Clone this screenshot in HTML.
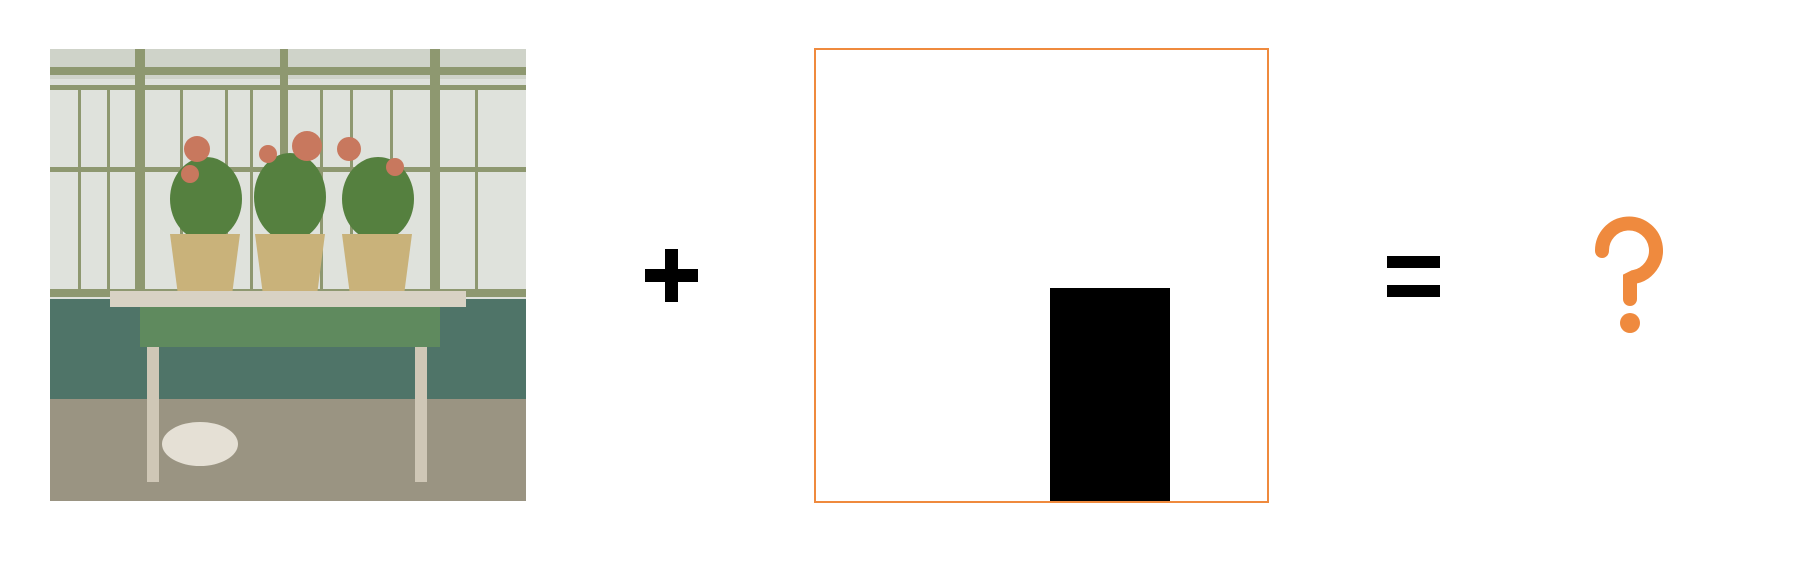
<!DOCTYPE html>
<html><head><meta charset="utf-8"><style>
html,body{margin:0;padding:0;background:#fff;}
body{width:1798px;height:562px;position:relative;overflow:hidden;font-family:"Liberation Sans",sans-serif;}
.a{position:absolute;}
</style></head><body>
<div class="a" style="left:50px;top:49px;width:476px;height:452px;overflow:hidden;background:#d9dcd6;">
<svg width="476" height="452" viewBox="0 0 476 452">
<rect x="0" y="0" width="476" height="250" fill="#dfe2dc"/>
<rect x="0" y="0" width="476" height="30" fill="#cfd3c9"/>
<g fill="#8e9870">
<rect x="0" y="18" width="476" height="8"/>
<rect x="0" y="36" width="476" height="5"/>
<rect x="0" y="118" width="476" height="5"/>
<rect x="0" y="240" width="476" height="8"/>
<rect x="85" y="0" width="10" height="250"/>
<rect x="230" y="0" width="8" height="250"/>
<rect x="380" y="0" width="10" height="250"/>
<rect x="28" y="36" width="3" height="210"/><rect x="57" y="36" width="3" height="210"/>
<rect x="130" y="36" width="3" height="210"/><rect x="175" y="36" width="3" height="210"/><rect x="200" y="36" width="3" height="210"/>
<rect x="270" y="36" width="3" height="210"/><rect x="300" y="36" width="3" height="210"/><rect x="340" y="36" width="3" height="210"/>
<rect x="425" y="36" width="3" height="210"/>
</g>
<rect x="0" y="250" width="476" height="110" fill="#4f7468"/>
<rect x="0" y="350" width="476" height="102" fill="#9a9482"/>
<g fill="#55803f"><ellipse cx="156" cy="150" rx="36" ry="42"/><ellipse cx="240" cy="148" rx="36" ry="44"/><ellipse cx="328" cy="150" rx="36" ry="42"/></g>
<g fill="#c8785e"><circle cx="147" cy="100" r="13"/><circle cx="257" cy="97" r="15"/><circle cx="299" cy="100" r="12"/><circle cx="140" cy="125" r="9"/><circle cx="218" cy="105" r="9"/><circle cx="345" cy="118" r="9"/></g>
<g fill="#c9b27a"><polygon points="120,185 190,185 182,246 128,246"/><polygon points="205,185 275,185 267,246 213,246"/><polygon points="292,185 362,185 354,246 300,246"/></g>
<rect x="60" y="242" width="356" height="16" fill="#d8d2c4"/>
<rect x="90" y="258" width="300" height="40" fill="#5f8a5e"/>
<g fill="#cfc7b6"><rect x="97" y="298" width="12" height="135"/><rect x="365" y="298" width="12" height="135"/></g>
<ellipse cx="150" cy="395" rx="38" ry="22" fill="#e5e0d5"/>
</svg></div>
<div class="a" style="left:645px;top:269px;width:53px;height:13px;background:#000"></div>
<div class="a" style="left:665px;top:249px;width:13px;height:53px;background:#000"></div>
<div class="a" style="left:814px;top:48px;width:451px;height:451px;border:2px solid #ef8a3e;"></div>
<div class="a" style="left:1050px;top:288px;width:120px;height:213px;background:#000"></div>
<div class="a" style="left:1387px;top:256px;width:53px;height:12px;background:#000"></div>
<div class="a" style="left:1387px;top:285px;width:53px;height:12px;background:#000"></div>
<svg class="a" style="left:1590px;top:215px" width="80" height="125" viewBox="0 0 80 125">
<path d="M12 36 A27 27 0 1 1 44 62 L40 64 L40 84" fill="none" stroke="#ef8a3e" stroke-width="14" stroke-linecap="round"/>
<circle cx="40" cy="108" r="10" fill="#ef8a3e"/>
</svg>
</body></html>
